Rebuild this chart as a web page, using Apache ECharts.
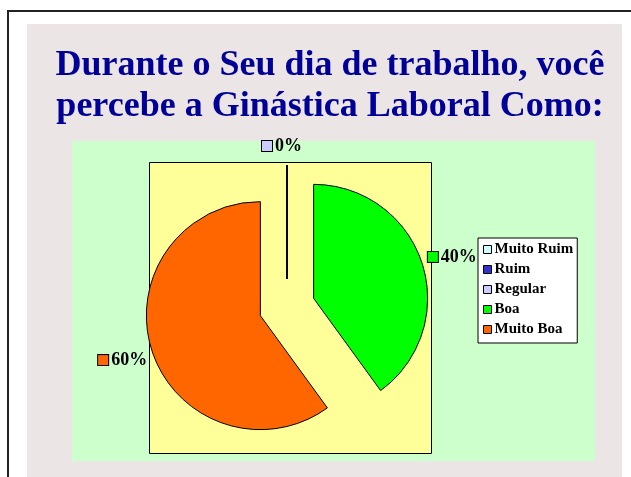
<!DOCTYPE html>
<html>
<head>
<meta charset="utf-8">
<script src="https://cdn.jsdelivr.net/npm/echarts@6/dist/echarts.min.js"></script>
<style>
  html, body { margin: 0; padding: 0; background: #fff; }
  #chart { width: 631px; height: 477px; }
</style>
</head>
<body>
<div id="chart"></div>
<script>
/* Ginástica Laboral — pizza explodida em estilo de slide */
const categories = ['Muito Ruim', 'Ruim', 'Regular', 'Boa', 'Muito Boa'];
const values = [0, 0, 0, 40, 60];
const colors = ['#ccffff', '#3333cc', '#ccccff', '#00ff00', '#ff6600'];
const showLabel = [false, false, true, true, true];

const SERIF = "'Times New Roman', 'Liberation Serif', serif";

// pequenos ajustes de posição dos rótulos (dx, dy)
const labelShift = [[0, 0], [0, 0], [0, -1], [-5, -5], [6, 8]];

const rich = { t: { fontFamily: SERIF, fontWeight: 'bold', fontSize: 18, color: '#000', padding: [0, 0, 0, 3] } };
colors.forEach((c, i) => {
  rich['k' + i] = { width: 10, height: 10, backgroundColor: c, borderColor: '#000', borderWidth: 1 };
});

const data = categories.map((name, i) => ({
  name, value: values[i], selected: true,
  itemStyle: { color: colors[i] },
  label: { show: showLabel[i] },
  labelLine: i === 2 ? { length: 18, length2: 0 } : { length: 4, length2: 2 },
}));

const chart = echarts.init(document.getElementById('chart'), null, { renderer: 'canvas' });
chart.setOption({
  animation: false,
  graphic: [
    { type: 'rect', z: -10, shape: { x: 8, y: 11, width: 700, height: 600 },
      style: { fill: '#fff', stroke: '#222', lineWidth: 2 } },
    { type: 'rect', z: -9, shape: { x: 27, y: 24, width: 595, height: 460 },
      style: { fill: '#ece5e5' } },
    { type: 'rect', z: -8, shape: { x: 72, y: 141, width: 523, height: 320 },
      style: { fill: '#ccffcc' } },
    { type: 'rect', z: -7, shape: { x: 149.5, y: 162.5, width: 282, height: 291 },
      style: { fill: '#ffff99', stroke: '#000', lineWidth: 1 } },
  ],
  title: {
    text: 'Durante o Seu dia de trabalho, você\npercebe a Ginástica Laboral Como:',
    left: 325, top: 40, textAlign: 'center',
    textStyle: { fontFamily: SERIF, fontWeight: 'bold', fontSize: 36, lineHeight: 41, color: '#000099' },
  },
  legend: {
    orient: 'vertical', left: 478, top: 238,
    selectedMode: false,
    backgroundColor: '#fff', borderColor: '#000', borderWidth: 1,
    padding: [4, 4, 6, 5], itemGap: 5,
    itemWidth: 8, itemHeight: 8, icon: 'rect',
    itemStyle: { borderColor: '#000', borderWidth: 1 },
    textStyle: { fontFamily: SERIF, fontWeight: 'bold', fontSize: 15, lineHeight: 15, color: '#000', padding: [0, 0, 0, -2] },
    data: categories,
  },
  series: [{
    type: 'pie',
    center: [287, 307], radius: 114,
    startAngle: 90, clockwise: true,
    selectedMode: 'multiple', selectedOffset: 28,
    emphasis: { disabled: true },
    itemStyle: { borderColor: '#000', borderWidth: 1 },
    label: {
      position: 'outside',
      formatter: p => `{k${p.dataIndex}|}{t|${Math.round(p.percent)}%}`,
      rich,
    },
    labelLine: { show: false },
    labelLayout: p => {
      const s = labelShift[p.dataIndex];
      const o = { dx: s[0], dy: s[1] };
      if (p.dataIndex === 2) o.align = 'center';
      return o;
    },
    data,
  }],
});
</script>
</body>
</html>
